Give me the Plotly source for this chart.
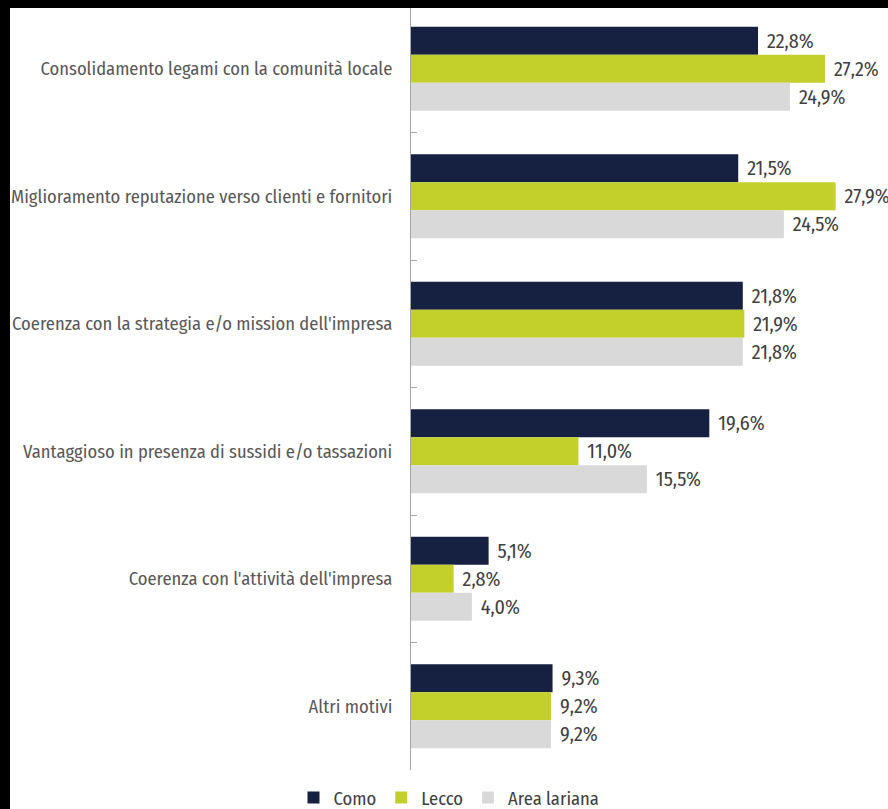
import plotly.graph_objects as go

categories = [
    "Consolidamento legami con la comunità locale",
    "Miglioramento reputazione verso clienti e fornitori",
    "Coerenza con la strategia e/o mission dell'impresa",
    "Vantaggioso in presenza di sussidi e/o tassazioni",
    "Coerenza con l'attività dell'impresa",
    "Altri motivi",
]
como = [22.8, 21.5, 21.8, 19.6, 5.1, 9.3]
lecco = [27.2, 27.9, 21.9, 11.0, 2.8, 9.2]
area_lariana = [24.9, 24.5, 21.8, 15.5, 4.0, 9.2]

series = [
    ("Como", como, "#162142"),
    ("Lecco", lecco, "#C3D02B"),
    ("Area lariana", area_lariana, "#D9D9D9"),
]

FONT = "Fira Sans Condensed, Archivo Narrow, DejaVu Sans Condensed, sans-serif"

fig = go.Figure()
for name, vals, color in series:
    fig.add_trace(go.Bar(
        name=name,
        y=categories,
        x=vals,
        orientation="h",
        marker=dict(color=color, line=dict(width=0)),
        texttemplate="\u200a %{x:.1f}%",
        textposition="outside",
        textfont=dict(family=FONT, size=20, color="#404040"),
        cliponaxis=False,
        constraintext="none",
        hoverinfo="skip",
    ))

W, H = 888, 809
L, R, T, B = 411, 10, 5, 39
pw = W - L - R
ph = H - T - B

def px_x(p):
    return (p - L) / pw

def px_y(p):
    return (H - B - p) / ph

fig.update_layout(
    width=W,
    height=H,
    margin=dict(l=L, r=R, t=T, b=B, autoexpand=False),
    paper_bgcolor="white",
    plot_bgcolor="white",
    separators=",.",
    barmode="group",
    bargap=0.34,
    bargroupgap=0,
    font=dict(family=FONT, color="#595959"),
    showlegend=True,
    legend=dict(
        orientation="h",
        xref="paper",
        yref="paper",
        x=px_x(449),
        xanchor="center",
        y=px_y(798),
        yanchor="middle",
        font=dict(family=FONT, size=18.5, color="#404040"),
        itemwidth=30,
        bgcolor="rgba(0,0,0,0)",
    ),
    xaxis=dict(
        range=[0, pw / 15.22],
        visible=False,
        showgrid=False,
        zeroline=False,
    ),
    yaxis=dict(
        type="category",
        autorange="reversed",
        automargin=False,
        showline=True,
        linecolor="#A6A6A6",
        linewidth=1,
        ticks="inside",
        tickson="boundaries",
        ticklen=6,
        tickcolor="#A6A6A6",
        showgrid=False,
        ticklabelstandoff=14,
        tickfont=dict(family=FONT, size=18.5, color="#595959"),
    ),
    shapes=[
        dict(type="rect", xref="paper", yref="paper", layer="above",
             x0=px_x(-5), x1=px_x(W + 5), y0=px_y(8), y1=px_y(-5),
             fillcolor="black", line=dict(width=0)),
        dict(type="rect", xref="paper", yref="paper", layer="above",
             x0=px_x(-5), x1=px_x(10), y0=px_y(H + 5), y1=px_y(-5),
             fillcolor="black", line=dict(width=0)),
    ],
)

fig.write_html(
    "out.html",
    config={"displayModeBar": False},
    post_script="document.body.style.margin='0';document.body.style.overflow='hidden';",
)
